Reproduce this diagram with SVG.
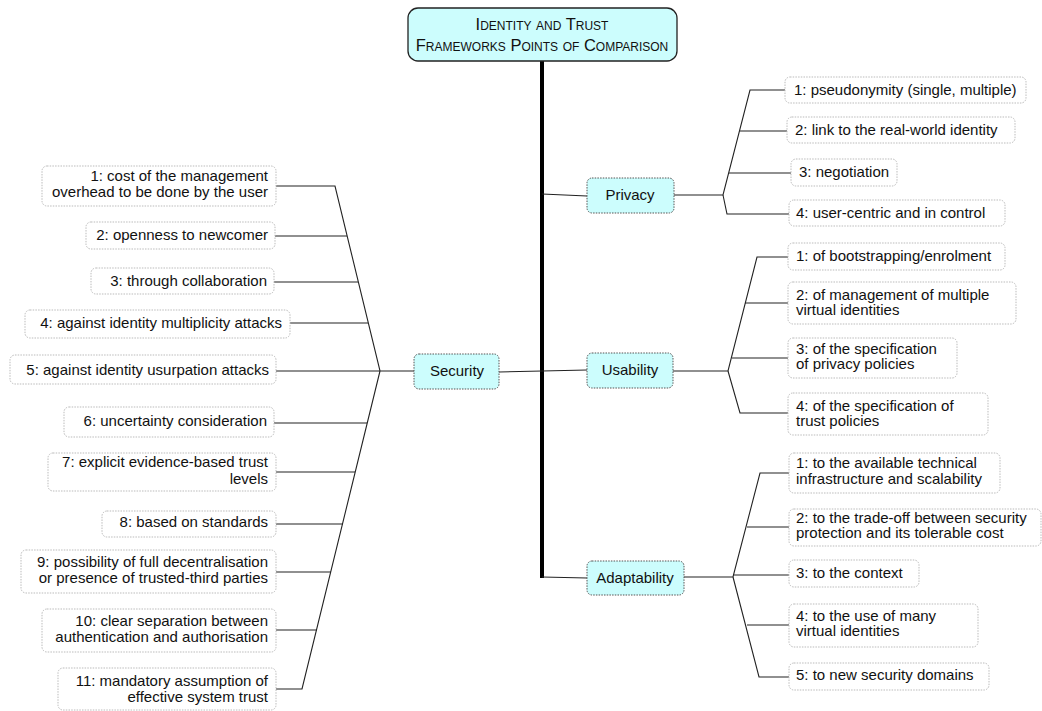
<svg xmlns="http://www.w3.org/2000/svg" width="1042" height="711" viewBox="0 0 1042 711">
<style>
  text { font-family: "Liberation Sans", Arial, sans-serif; font-size: 15px; fill: #111; }
  .title { font-size: 16.5px; font-variant: small-caps; }
  .main rect { fill: #ccfdfd; stroke: #555; stroke-width: 1; stroke-dasharray: 1.5 1.2; }
  .leaf rect { fill: #fff; stroke: #bbb; stroke-width: 1; stroke-dasharray: 1.5 1.2; }
  .root rect { fill: #ccfdfd; stroke: #222; stroke-width: 1.3; }
  .l { fill: none; stroke: #222; stroke-width: 1.1; }
  .r { text-anchor: end; }
  .c { text-anchor: middle; }
</style>

<!-- connectors -->
<g id="connectors">
  <line x1="542" y1="61" x2="542" y2="578" stroke="#000" stroke-width="4"/>
  <polyline class="l" points="542,194 587,196"/>
  <polyline class="l" points="542,371 587,370"/>
  <polyline class="l" points="499,372 542,371"/>
  <polyline class="l" points="542,577 587,578"/>

  <!-- privacy fan -->
  <polyline class="l" points="674,195 723,195 750,90 785,90"/>
  <polyline class="l" points="740,131 787,131"/>
  <polyline class="l" points="729,173 791,173"/>
  <polyline class="l" points="723,195 727,214 789,214"/>

  <!-- usability fan -->
  <polyline class="l" points="673,371 728,371 757,257 788,257"/>
  <polyline class="l" points="745,303 788,303"/>
  <polyline class="l" points="732,358 788,358"/>
  <polyline class="l" points="728,371 740,413 788,413"/>

  <!-- adaptability fan -->
  <polyline class="l" points="684,577 733,577 760,473 789,473"/>
  <polyline class="l" points="747,527 789,527"/>
  <polyline class="l" points="733,575 789,575"/>
  <polyline class="l" points="733,577 759,677 789,677"/>
  <polyline class="l" points="747,625 789,625"/>

  <!-- security fan -->
  <polyline class="l" points="414,371 380,371 335,186 276,186"/>
  <polyline class="l" points="347,236 275,236"/>
  <polyline class="l" points="358,282 274,282"/>
  <polyline class="l" points="368,323 290,323"/>
  <polyline class="l" points="380,371 276,371"/>
  <polyline class="l" points="380,371 302,689 276,689"/>
  <polyline class="l" points="367,423 274,423"/>
  <polyline class="l" points="355,472 276,472"/>
  <polyline class="l" points="343,524 276,524"/>
  <polyline class="l" points="331,572 276,572"/>
  <polyline class="l" points="317,630 276,630"/>
</g>

<!-- root -->
<g id="root" class="root">
  <rect x="408" y="8" width="269" height="53" rx="10"/>
  <text class="title c" x="542" y="30">Identity and Trust</text>
  <text class="title c" x="542" y="51">Frameworks Points of Comparison</text>
</g>

<!-- main branches -->
<g id="privacy" class="main">
  <rect x="587" y="178" width="87" height="35" rx="5"/>
  <text class="c" x="630" y="200">Privacy</text>
</g>
<g id="usability" class="main">
  <rect x="587" y="353" width="86" height="35" rx="5"/>
  <text class="c" x="630" y="375">Usability</text>
</g>
<g id="adaptability" class="main">
  <rect x="587" y="561" width="97" height="34" rx="5"/>
  <text class="c" x="635" y="583">Adaptability</text>
</g>
<g id="security" class="main">
  <rect x="414" y="354" width="85" height="35" rx="5"/>
  <text class="c" x="457" y="376">Security</text>
</g>

<!-- privacy items -->
<g id="p1" class="leaf"><rect x="785" y="77" width="241" height="26" rx="5"/><text x="794" y="95">1: pseudonymity (single, multiple)</text></g>
<g id="p2" class="leaf"><rect x="787" y="117" width="228" height="26" rx="5"/><text x="795" y="135">2: link to the real-world identity</text></g>
<g id="p3" class="leaf"><rect x="791" y="159" width="106" height="27" rx="5"/><text x="799" y="177">3: negotiation</text></g>
<g id="p4" class="leaf"><rect x="789" y="200" width="216" height="26" rx="5"/><text x="796" y="218">4: user-centric and in control</text></g>

<!-- usability items -->
<g id="u1" class="leaf"><rect x="788" y="243" width="217" height="27" rx="5"/><text x="796" y="261">1: of bootstrapping/enrolment</text></g>
<g id="u2" class="leaf"><rect x="788" y="282" width="228" height="42" rx="5"/><text x="796" y="300">2: of management of multiple</text><text x="796" y="315">virtual identities</text></g>
<g id="u3" class="leaf"><rect x="788" y="338" width="169" height="40" rx="5"/><text x="796" y="354">3: of the specification</text><text x="796" y="369">of privacy policies</text></g>
<g id="u4" class="leaf"><rect x="788" y="393" width="200" height="42" rx="5"/><text x="796" y="411">4: of the specification of</text><text x="796" y="426">trust policies</text></g>

<!-- adaptability items -->
<g id="a1" class="leaf"><rect x="789" y="453" width="211" height="40" rx="5"/><text x="796" y="468">1: to the available technical</text><text x="796" y="484">infrastructure and scalability</text></g>
<g id="a2" class="leaf"><rect x="789" y="509" width="252" height="37" rx="5"/><text x="796" y="523">2: to the trade-off between security</text><text x="796" y="538">protection and its tolerable cost</text></g>
<g id="a3" class="leaf"><rect x="789" y="560" width="130" height="27" rx="5"/><text x="796" y="578">3: to the context</text></g>
<g id="a4" class="leaf"><rect x="789" y="604" width="189" height="43" rx="5"/><text x="796" y="621">4: to the use of many</text><text x="796" y="636">virtual identities</text></g>
<g id="a5" class="leaf"><rect x="789" y="663" width="200" height="27" rx="5"/><text x="796" y="680">5: to new security domains</text></g>

<!-- security items -->
<g id="s1" class="leaf"><rect x="42" y="166" width="234" height="40" rx="5"/><text class="r" x="268" y="181">1: cost of the management</text><text class="r" x="268" y="197">overhead to be done by the user</text></g>
<g id="s2" class="leaf"><rect x="86" y="222" width="189" height="27" rx="5"/><text class="r" x="268" y="240">2: openness to newcomer</text></g>
<g id="s3" class="leaf"><rect x="91" y="268" width="183" height="26" rx="5"/><text class="r" x="267" y="286">3: through collaboration</text></g>
<g id="s4" class="leaf"><rect x="25" y="310" width="265" height="28" rx="5"/><text class="r" x="282" y="328">4: against identity multiplicity attacks</text></g>
<g id="s5" class="leaf"><rect x="10" y="355" width="266" height="29" rx="5"/><text class="r" x="269" y="375">5: against identity usurpation attacks</text></g>
<g id="s6" class="leaf"><rect x="64" y="407" width="210" height="30" rx="5"/><text class="r" x="267" y="426">6: uncertainty consideration</text></g>
<g id="s7" class="leaf"><rect x="48" y="453" width="228" height="38" rx="5"/><text class="r" x="268" y="467">7: explicit evidence-based trust</text><text class="r" x="268" y="484">levels</text></g>
<g id="s8" class="leaf"><rect x="102" y="511" width="174" height="26" rx="5"/><text class="r" x="268" y="527">8: based on standards</text></g>
<g id="s9" class="leaf"><rect x="21" y="550" width="255" height="43" rx="5"/><text class="r" x="268" y="567">9: possibility of full decentralisation</text><text class="r" x="268" y="583">or presence of trusted-third parties</text></g>
<g id="s10" class="leaf"><rect x="42" y="609" width="234" height="43" rx="5"/><text class="r" x="268" y="626">10: clear separation between</text><text class="r" x="268" y="642">authentication and authorisation</text></g>
<g id="s11" class="leaf"><rect x="58" y="668" width="218" height="42" rx="5"/><text class="r" x="268" y="686">11: mandatory assumption of</text><text class="r" x="268" y="702">effective system trust</text></g>
</svg>
